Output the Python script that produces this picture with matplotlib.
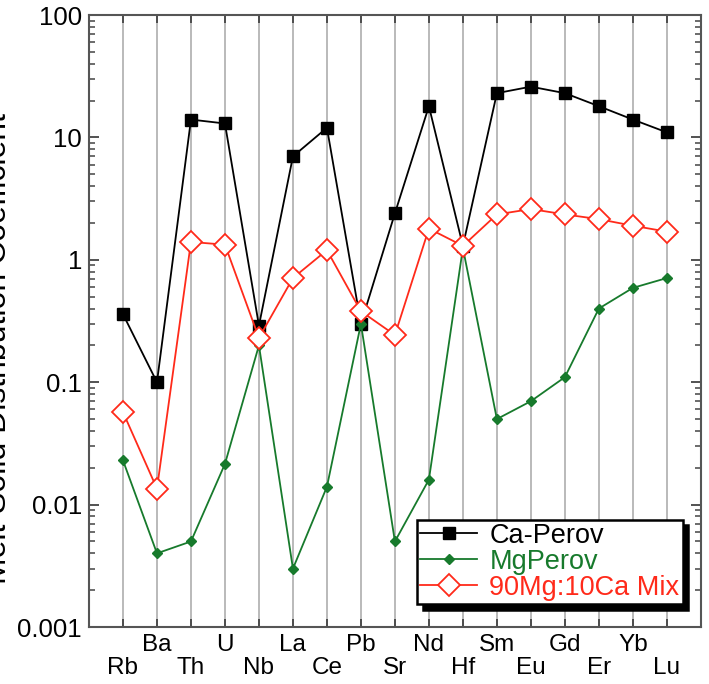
import numpy as np
import matplotlib
matplotlib.use("Agg")
from matplotlib import pyplot as plt
from matplotlib.ticker import FixedLocator, LogLocator, NullFormatter

plt.rcParams['font.family'] = ['Liberation Sans', 'DejaVu Sans']

# Elements along the x axis
elements = ["Rb", "Ba", "Th", "U", "Nb", "La", "Ce", "Pb", "Sr",
            "Nd", "Hf", "Sm", "Eu", "Gd", "Er", "Yb", "Lu"]

# Melt-solid distribution coefficients
ca_perov = [0.36, 0.10, 14, 13, 0.29, 7.0, 12, 0.30, 2.4,
            18, 1.3, 23, 26, 23, 18, 14, 11]
mg_perov = [0.023, 0.004, 0.005, 0.0215, 0.20, 0.003, 0.014, 0.30, 0.005,
            0.016, 1.25, 0.050, 0.070, 0.11, 0.40, 0.59, 0.71]
mix = [0.057, 0.0135, 1.4, 1.33, 0.23, 0.71, 1.2, 0.38, 0.243,
       1.8, 1.3, 2.35, 2.6, 2.35, 2.15, 1.9, 1.7]

yticks = [0.001, 0.01, 0.1, 1, 10, 100]
ytick_labels = ["0.001", "0.01", "0.1", "1", "10", "100"]

x = np.arange(len(elements))

fig = plt.figure(figsize=(7.09, 6.84), dpi=100)
ax = fig.add_axes([0.1255, 0.0833, 0.863, 0.8947])

# vertical grid at every element
for xi in x:
    ax.axvline(xi, color="#b4b4b4", lw=1.3, zorder=0)

green = "#177a2c"
red = "#ff2a1a"

ax.plot(x, ca_perov, color="black", lw=1.3, marker="s", ms=9,
        markerfacecolor="black", label="Ca-Perov", zorder=3)
ax.plot(x, mg_perov, color=green, lw=1.3, marker="D", ms=5.5,
        markerfacecolor=green, markeredgecolor=green, label="MgPerov", zorder=4)
ax.plot(x, mix, color=red, lw=1.3, marker="D", ms=11, markerfacecolor="white",
        markeredgecolor=red, markeredgewidth=1.3, label="90Mg:10Ca Mix", zorder=5)

ax.set_yscale("log")
ax.set_ylim(0.001, 100)
ax.set_xlim(-1, 17)

ax.yaxis.set_major_locator(FixedLocator(yticks))
ax.set_yticklabels(ytick_labels)
ax.yaxis.set_minor_locator(LogLocator(base=10, subs=np.arange(2, 10)))
ax.yaxis.set_minor_formatter(NullFormatter())

# alternating tick label rows
xlabels = [("\n" + e) if i % 2 == 0 else e for i, e in enumerate(elements)]
ax.set_xticks(x)
ax.set_xticklabels(xlabels, fontsize=17.5, linespacing=1.06)

ax.tick_params(axis="y", which="major", direction="in", length=7, width=1.3,
               right=True, labelsize=18.5, pad=5, color="#444444")
ax.tick_params(axis="y", which="minor", direction="in", length=4, width=1.1,
               right=True, color="#444444")
ax.tick_params(axis="x", which="major", direction="in", length=6, width=1.3,
               top=True, pad=5, color="#444444")
ax.tick_params(axis="x", which="minor", bottom=False, top=False)

for sp in ax.spines.values():
    sp.set_color("#555555")
    sp.set_linewidth(1.5)

fig.text(0.018, 0.49, "Melt-Solid Distribution Coefficient", rotation=90,
         ha="right", va="center", fontsize=23)

leg = ax.legend(loc="lower right", bbox_to_anchor=(0.9706, 0.0376),
                borderaxespad=0, fontsize=19.5, handlelength=2.1,
                labelspacing=0.0, borderpad=0.12, handletextpad=0.45,
                fancybox=False, framealpha=1,
                shadow={"ox": 4, "oy": -4, "color": "black", "alpha": 1})
leg.get_frame().set_edgecolor("black")
leg.get_frame().set_linewidth(1.8)
for txt, c in zip(leg.get_texts(), ["black", green, red]):
    txt.set_color(c)

plt.savefig("out.png", dpi=100)
plt.close()
